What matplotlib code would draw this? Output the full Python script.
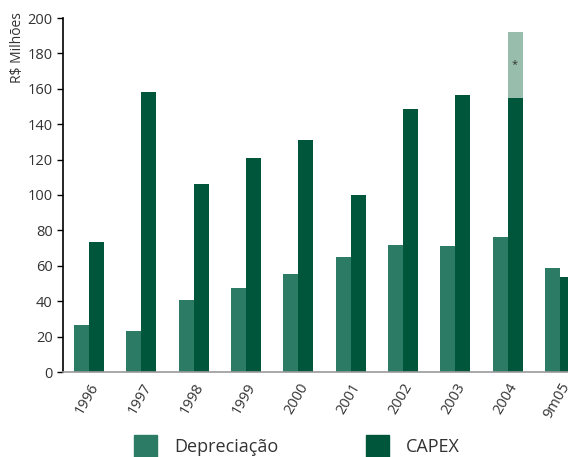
import numpy as np
import matplotlib
matplotlib.use("Agg")
import matplotlib.pyplot as plt
from matplotlib.patches import Rectangle

plt.rcParams['font.family'] = ['Open Sans', 'DejaVu Sans']

anos = ['1996', '1997', '1998', '1999', '2000', '2001', '2002', '2003', '2004', '9m05']
depreciacao = [26.5, 23.2, 40.7, 47.5, 55.4, 65.0, 71.8, 71.2, 76.3, 58.8]
capex = [73.4, 158.0, 106.0, 121.0, 131.0, 100.0, 148.6, 156.5, 154.8, 53.7]
capex_extra_2004 = 192.0 - 154.8  # parte clara (*) sobre a barra de 2004

cor_dep = '#2b7b65'
cor_capex = '#00563a'
cor_extra = '#98bdac'

W, H = 568, 457
fig = plt.figure(figsize=(W/100, H/100), dpi=100)
# o eixo passa da borda direita, cortando a ultima barra
ax = fig.add_axes([63/W, (H-372)/H, 523/W, 354/H])

x = np.arange(len(anos))
w = 0.287
ax.bar(x - w/2, depreciacao, w, color=cor_dep)
ax.bar(x + w/2, capex, w, color=cor_capex)
ax.bar(x[8] + w/2, capex_extra_2004, w, bottom=capex[8], color=cor_extra)
ax.text(x[8] + w/2, capex[8] + capex_extra_2004 * 0.5, '*', ha='center', va='center',
        fontsize=8, color='#333333')

ax.set_xlim(-0.5, len(anos) - 0.5)
ax.set_ylim(0, 200)
ax.set_yticks(range(0, 201, 20))
ax.set_xticks(x)
ax.set_xticklabels(anos, rotation=60, ha='right', rotation_mode='anchor')
ax.tick_params(axis='x', length=0, pad=6, labelsize=10.5, colors='#333333')
ax.tick_params(axis='y', length=4, width=1, labelsize=10.5, labelcolor='#333333', color='black')

for s in ['top', 'right']:
    ax.spines[s].set_visible(False)
ax.spines['left'].set_color('black')
ax.spines['left'].set_linewidth(1.2)
ax.spines['bottom'].set_color('#999999')
ax.spines['bottom'].set_linewidth(1.2)

fig.text(10/W, 1 - 12/H, 'R$ Milhões', rotation=90, ha='left', va='top',
         fontsize=10, color='#333333')

# legenda desenhada a mao no rodape
itens = [('Depreciação', cor_dep, 134), ('CAPEX', cor_capex, 366)]
for nome, cor, px in itens:
    fig.add_artist(Rectangle((px/W, -2/H), 23/W, 24/H, transform=fig.transFigure,
                             color=cor, clip_on=False))
    fig.text((px + 40)/W, (H - 447)/H, nome, ha='left', va='center',
             fontsize=13, color='#333333')

fig.savefig('out.png', dpi=100)
